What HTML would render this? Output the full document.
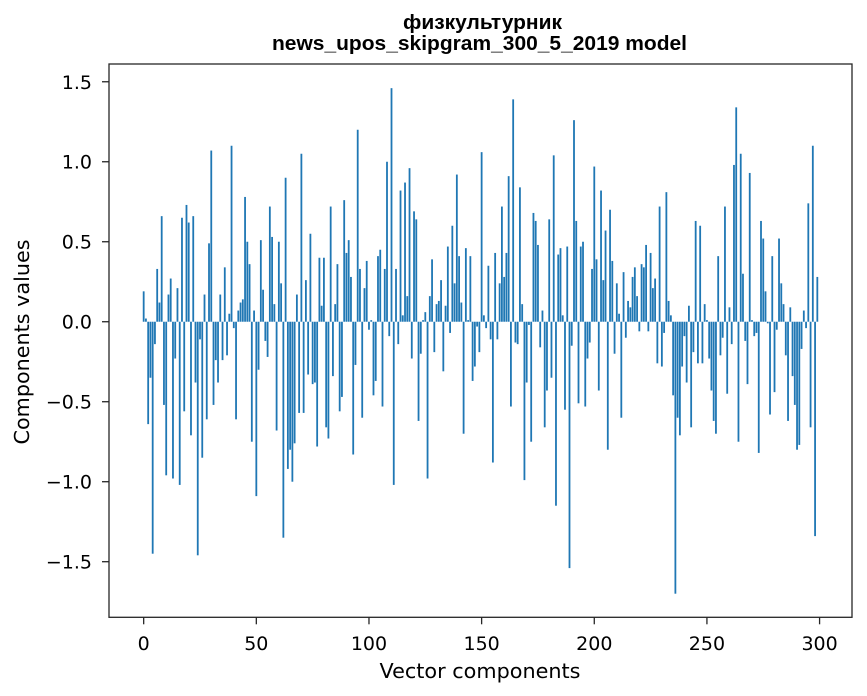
<!DOCTYPE html>
<html><head><meta charset="utf-8">
<style>
html,body{margin:0;padding:0;background:#fff;}
svg{display:block;font-family:"DejaVu Sans","Liberation Sans",sans-serif;}
.ttl{font-family:"Liberation Sans","DejaVu Sans",sans-serif;}
</style></head>
<body>
<svg id="chart" width="867" height="696" viewBox="0 0 867 696" xmlns="http://www.w3.org/2000/svg">
  <rect x="0" y="0" width="867" height="696" fill="#fff"/>
  <text class="ttl" x="482.5" y="29" text-anchor="middle" font-size="20" font-weight="bold" fill="#000" textLength="159" lengthAdjust="spacingAndGlyphs">физкультурник</text>
  <text class="ttl" x="479.5" y="50" text-anchor="middle" font-size="20" font-weight="bold" fill="#000" textLength="415" lengthAdjust="spacingAndGlyphs">news_upos_skipgram_300_5_2019 model</text>
  <g id="bars"></g>
  <g id="yticks"></g>
  <g id="xticks"></g>
  <rect x="109" y="64" width="743" height="553.3" fill="none" stroke="#262626" stroke-width="1.3"/>
  <text x="480" y="678" text-anchor="middle" font-size="20.5" fill="#000" textLength="201" lengthAdjust="spacingAndGlyphs">Vector components</text>
  <text transform="translate(29,342) rotate(-90)" text-anchor="middle" font-size="20.5" fill="#000" textLength="205" lengthAdjust="spacingAndGlyphs">Components values</text>
</svg>
<script>
const values = [
0.19,0.02,-0.64,-0.35,-1.45,-0.14,0.33,0.12,0.66,-0.52,
-0.96,0.17,0.27,-0.98,-0.23,0.21,-1.02,0.65,-0.56,0.73,
0.62,-0.71,0.66,-0.38,-1.46,-0.11,-0.85,0.17,-0.61,0.49,
1.07,-0.52,-0.24,-0.38,0.17,-0.24,0.34,-0.21,0.05,1.10,
-0.04,-0.61,0.07,0.12,0.14,0.78,0.50,0.36,-0.75,0.07,
-1.09,-0.30,0.51,0.20,-0.12,-0.22,0.72,0.53,0.11,-0.68,
0.50,0.24,-1.35,0.90,-0.92,-0.80,-1.00,-0.76,0.17,-0.57,
1.05,-0.57,0.26,-0.33,0.55,-0.39,-0.38,-0.78,0.40,0.10,
0.40,-0.66,-0.73,0.72,-0.34,0.11,0.36,-0.56,-0.47,0.76,
0.43,0.51,0.28,-0.83,-0.27,1.20,0.33,-0.60,0.21,0.38,
-0.05,0.01,-0.46,-0.37,0.41,0.45,-0.53,0.33,1.00,-0.09,
1.46,-1.02,0.33,-0.14,0.82,0.04,0.87,0.16,0.96,-0.23,
0.69,0.64,-0.62,-0.20,0.01,0.06,-0.98,0.16,0.39,-0.19,
0.11,0.13,0.26,-0.31,0.10,0.47,-0.07,0.60,0.24,0.92,
0.41,0.12,-0.70,0.46,0.01,0.41,-0.37,-0.28,-0.03,-0.19,
1.06,0.04,-0.04,0.35,-0.11,-0.88,0.43,-0.11,0.24,0.72,
0.28,0.43,0.91,-0.53,1.39,-0.13,-0.14,0.84,0.11,-0.99,
-0.38,-0.02,-0.75,0.68,0.63,0.48,-0.16,0.07,-0.66,-0.43,
0.64,-0.35,1.04,-1.15,0.42,0.46,0.04,-0.55,0.47,-1.54,
-0.15,1.26,0.63,-0.51,0.47,0.50,-0.53,-0.23,-0.13,0.33,
0.97,0.39,-0.43,0.82,0.26,0.57,-0.80,0.70,0.38,-0.20,
0.24,0.05,-0.60,0.31,-0.10,0.13,0.09,0.28,0.34,0.16,
-0.06,0.36,0.34,0.48,-0.06,0.43,0.21,0.27,-0.26,0.72,
-0.28,-0.07,0.81,0.13,0.04,-0.46,-1.70,-0.60,-0.71,-0.28,
-0.09,-0.38,0.10,-0.66,-0.19,0.63,-0.26,0.60,-0.26,0.11,
0.01,-0.23,-0.43,-0.62,-0.70,0.41,-0.21,-0.10,0.72,-0.45,
0.09,-0.14,0.98,1.34,-0.75,1.05,0.30,-0.12,-0.39,0.93,
0.01,-0.09,-0.07,-0.82,0.63,0.52,0.19,-0.01,-0.58,0.41,
-0.44,-0.05,0.52,0.24,0.11,-0.21,-0.62,0.09,-0.34,-0.52,
-0.80,-0.77,-0.17,0.07,-0.04,0.74,-0.66,1.10,-1.34,0.28
];
const yTickValues = [-1.5,-1.0,-0.5,0.0,0.5,1.0,1.5];
const yTickLabels = ["\u22121.5","\u22121.0","\u22120.5","0.0","0.5","1.0","1.5"];
const xTickValues = [0,50,100,150,200,250,300];
const xTickLabels = ["0","50","100","150","200","250","300"];

const NS = "http://www.w3.org/2000/svg";
const plotL = 109, plotR = 852, plotT = 64, plotB = 617.3;
const n = values.length;
const xMin = -0.4 - 0.05 * (n - 0.2), xMax = (n - 1) + 0.4 + 0.05 * (n - 0.2);
const yMin = -1.8475, yMax = 1.611;
function xScale(v){ return plotL + (v - xMin) / (xMax - xMin) * (plotR - plotL); }
function yScale(v){ return plotB - (v - yMin) / (yMax - yMin) * (plotB - plotT); }

const barsG = document.getElementById('bars');
values.forEach(function(v, i){
  const r = document.createElementNS(NS, 'rect');
  const x0 = xScale(i - 0.4), x1 = xScale(i + 0.4);
  const y0 = yScale(Math.max(v, 0)), y1 = yScale(Math.min(v, 0));
  r.setAttribute('x', x0);
  r.setAttribute('width', x1 - x0);
  r.setAttribute('y', y0);
  r.setAttribute('height', Math.max(y1 - y0, 0.1));
  r.setAttribute('fill', '#1f77b4');
  
  
  barsG.appendChild(r);
});

const yG = document.getElementById('yticks');
yTickValues.forEach(function(v, i){
  const y = yScale(v);
  const l = document.createElementNS(NS, 'line');
  l.setAttribute('x1', plotL - 7); l.setAttribute('x2', plotL);
  l.setAttribute('y1', y); l.setAttribute('y2', y);
  l.setAttribute('stroke', '#262626'); l.setAttribute('stroke-width', '1.3');
  
  
  yG.appendChild(l);
  const t = document.createElementNS(NS, 'text');
  t.setAttribute('x', plotL - 17); t.setAttribute('y', y + 7);
  t.setAttribute('text-anchor', 'end'); t.setAttribute('font-size', '19');
  t.setAttribute('fill', '#000');
  t.textContent = yTickLabels[i];
  
  
  yG.appendChild(t);
});

const xG = document.getElementById('xticks');
xTickValues.forEach(function(v, i){
  const x = xScale(v);
  const l = document.createElementNS(NS, 'line');
  l.setAttribute('x1', x); l.setAttribute('x2', x);
  l.setAttribute('y1', plotB); l.setAttribute('y2', plotB + 7);
  l.setAttribute('stroke', '#262626'); l.setAttribute('stroke-width', '1.3');
  
  
  xG.appendChild(l);
  const t = document.createElementNS(NS, 'text');
  t.setAttribute('x', x); t.setAttribute('y', 650);
  t.setAttribute('text-anchor', 'middle'); t.setAttribute('font-size', '19');
  t.setAttribute('fill', '#000');
  t.textContent = xTickLabels[i];
  
  
  xG.appendChild(t);
});
</script>
</body></html>
